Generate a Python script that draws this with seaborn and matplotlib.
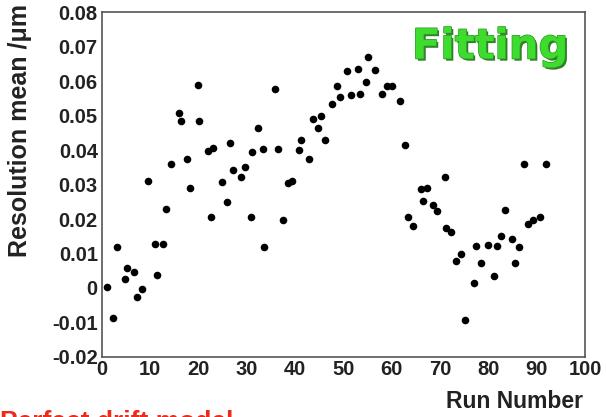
import matplotlib
matplotlib.use("Agg")
import matplotlib.pyplot as plt
import matplotlib.patheffects as pe
from matplotlib.ticker import MultipleLocator
import seaborn as sns
import pandas as pd

run_number = [1.0, 2.3, 3.2, 4.8, 5.2, 6.7, 7.3, 8.3, 9.5, 11.0, 11.4, 12.6, 13.2, 14.3,
              15.9, 16.4, 17.7, 18.3, 19.9, 20.1, 22.0, 22.6, 23.0, 24.8, 25.9, 26.6,
              27.1, 28.7, 29.6, 30.9, 31.1, 32.3, 33.3, 33.6, 35.8, 36.5, 37.5, 38.4,
              39.3, 40.8, 41.2, 42.8, 43.7, 44.8, 45.3, 46.2, 47.6, 48.7, 49.3, 50.7,
              51.5, 52.9, 53.5, 54.7, 55.1, 56.6, 57.9, 58.9, 60.0, 61.6, 62.8, 63.3,
              64.3, 66.0, 66.5, 67.3, 68.6, 69.3, 71.0, 71.3, 72.2, 73.3, 74.4, 75.1,
              77.0, 77.4, 78.5, 79.9, 81.1, 81.8, 82.5, 83.5, 84.8, 85.4, 86.3, 87.3,
              88.1, 89.2, 90.7, 91.8]
resolution_mean = [0.0002, -0.0087, 0.0120, 0.0027, 0.0058, 0.0046, -0.0027, -0.0003,
                   0.0311, 0.0128, 0.0037, 0.0128, 0.0229, 0.0359, 0.0508, 0.0483,
                   0.0374, 0.0291, 0.0588, 0.0483, 0.0397, 0.0205, 0.0405, 0.0306,
                   0.0249, 0.0419, 0.0342, 0.0323, 0.0350, 0.0207, 0.0394, 0.0463,
                   0.0402, 0.0120, 0.0577, 0.0402, 0.0197, 0.0303, 0.0311, 0.0400,
                   0.0428, 0.0373, 0.0490, 0.0465, 0.0500, 0.0429, 0.0534, 0.0587,
                   0.0555, 0.0629, 0.0561, 0.0634, 0.0562, 0.0596, 0.0669, 0.0632,
                   0.0562, 0.0587, 0.0586, 0.0542, 0.0414, 0.0207, 0.0180, 0.0287,
                   0.0252, 0.0289, 0.0240, 0.0223, 0.0321, 0.0175, 0.0162, 0.0079,
                   0.0099, -0.0093, 0.0014, 0.0122, 0.0073, 0.0126, 0.0035, 0.0121,
                   0.0151, 0.0226, 0.0143, 0.0071, 0.0118, 0.0359, 0.0186, 0.0197,
                   0.0206, 0.0360]

x_ticks = [0, 10, 20, 30, 40, 50, 60, 70, 80, 90, 100]
y_ticks = [-0.02, -0.01, 0, 0.01, 0.02, 0.03, 0.04, 0.05, 0.06, 0.07, 0.08]
y_tick_labels = ["-0.02", "-0.01", "0", "0.01", "0.02", "0.03", "0.04", "0.05", "0.06", "0.07", "0.08"]

df = pd.DataFrame({"run": run_number, "mean": resolution_mean})

sns.set_style("white")
plt.rcParams["font.family"] = ["Liberation Sans", "DejaVu Sans"]

fig = plt.figure(figsize=(6.07, 4.17), dpi=100)
ax = fig.add_axes([0.168, 0.144, 0.796, 0.827])

sns.scatterplot(data=df, x="run", y="mean", ax=ax, color="black", s=30,
                edgecolor="black", linewidth=0, legend=False)

ax.set_xlim(0, 100)
ax.set_ylim(-0.02, 0.08)
ax.set_xticks(x_ticks)
ax.set_xticklabels([str(t) for t in x_ticks])
ax.set_yticks(y_ticks)
ax.set_yticklabels(y_tick_labels)
ax.xaxis.set_minor_locator(MultipleLocator(2))
ax.yaxis.set_minor_locator(MultipleLocator(0.002))
ax.tick_params(axis="both", which="major", direction="in", length=9, width=1.0,
               labelsize=14.5, color="#555555", pad=3)
ax.tick_params(axis="both", which="minor", direction="in", length=5, width=0.8,
               color="#777777")
ax.tick_params(axis="x", which="major", pad=2)
for lbl in ax.get_xticklabels() + ax.get_yticklabels():
    lbl.set_fontweight("bold")
    lbl.set_color("#222222")

for side in ["left", "bottom", "top", "right"]:
    ax.spines[side].set_color("#555555")
    ax.spines[side].set_linewidth(1.2)

ax.set_xlabel("")
ax.set_ylabel("")
fig.text(583 / 607, 1 - 402 / 417, "Run Number", ha="right", va="center",
         fontsize=16.5, fontweight="bold", color="#222222")
fig.text(20 / 607, 1 - 4 / 417, "Resolution mean /\u03bcm", rotation=90,
         ha="center", va="top", fontsize=18, fontweight="bold", color="#222222")

ax.text(0.965, 0.9, "Fitting", transform=ax.transAxes, ha="right", va="center",
        fontsize=30, fontweight="bold", color="#3ddc2e", family="DejaVu Sans",
        path_effects=[pe.withSimplePatchShadow(offset=(1.5, -1.5), shadow_rgbFace="#1d6e14", alpha=0.9),
                      pe.Stroke(linewidth=1.0, foreground="#2a9a20"), pe.Normal()])

fig.text(0.0, 1 - 410 / 417, "Perfect drift model", ha="left", va="top", fontsize=19,
         fontweight="bold", color="#ee2a1a")

fig.savefig("out.png", dpi=100)
